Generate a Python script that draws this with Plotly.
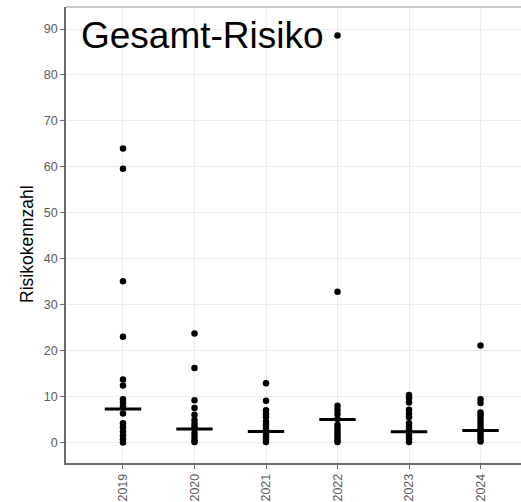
import plotly.graph_objects as go

years = ["2019", "2020", "2021", "2022", "2023", "2024"]

v2019 = [64.0, 59.6, 35.1, 23.0, 13.7, 12.4, 9.4, 8.7, 7.8, 6.3, 4.2, 3.3, 2.4, 1.5, 0.7, 0.0]
v2020 = [23.7, 16.2, 9.2, 7.5, 6.0, 4.9, 4.0, 3.3, 2.9, 2.0, 1.2, 0.5, 0.1]
v2021 = [12.9, 9.1, 7.0, 6.2, 5.5, 4.5, 3.8, 3.0, 2.4, 1.8, 1.2, 0.6, 0.1]
v2022 = [88.6, 32.8, 8.0, 7.1, 6.2, 5.1, 3.8, 3.2, 2.5, 1.8, 1.2, 0.6, 0.1]
v2023 = [10.3, 9.6, 8.7, 7.1, 6.3, 5.5, 4.2, 3.5, 2.8, 2.2, 1.5, 0.8, 0.1]
v2024 = [21.1, 9.4, 8.6, 6.5, 5.9, 5.2, 4.5, 3.8, 3.1, 2.6, 2.0, 1.4, 0.8, 0.2]

medians = [7.3, 2.9, 2.4, 5.0, 2.3, 2.6]

y_ticks = [0, 10, 20, 30, 40, 50, 60, 70, 80, 90]
title_text = "Gesamt-Risiko"
y_label = "Risikokennzahl"

series = [v2019, v2020, v2021, v2022, v2023, v2024]
xs, ys = [], []
for yr, vals in zip(years, series):
    xs += [yr] * len(vals)
    ys += vals

fig = go.Figure()
fig.add_trace(go.Scatter(
    x=xs, y=ys, mode="markers",
    marker=dict(color="black", size=6.5, line=dict(width=0)),
    showlegend=False, hoverinfo="skip",
))
fig.add_trace(go.Scatter(
    x=years, y=medians, mode="markers",
    marker=dict(symbol="line-ew", size=26, color="black",
                line=dict(color="black", width=3)),
    showlegend=False, hoverinfo="skip",
))

fig.add_annotation(
    text=title_text, xref="paper", yref="y", x=0.028, y=88.6,
    xanchor="left", yanchor="middle", showarrow=False,
    font=dict(family="Liberation Sans, Arial, sans-serif", size=37, color="black"),
)
fig.add_annotation(
    text=y_label, xref="paper", yref="paper", x=-0.086, y=0.48,
    xanchor="center", yanchor="middle", textangle=-90, showarrow=False,
    font=dict(family="Liberation Sans, Arial, sans-serif", size=17.5, color="black"),
)
fig.add_shape(type="line", xref="paper", yref="paper", x0=0, x1=1, y0=1, y1=1,
              line=dict(color="#b5b5b5", width=1.5))

fig.update_layout(
    width=521, height=502,
    margin=dict(l=66, r=0, t=7, b=39),
    paper_bgcolor="white", plot_bgcolor="white",
    font=dict(family="Liberation Sans, Arial, sans-serif"),
    xaxis=dict(
        type="category", categoryorder="array", categoryarray=years,
        range=[-0.797, 5.566], automargin=False,
        showgrid=True, gridcolor="#ebebeb", gridwidth=1,
        showline=True, linecolor="#6a6a6a", linewidth=1.5,
        ticks="outside", ticklen=4, tickcolor="#6a6a6a", tickwidth=1,
        tickangle=-90, tickfont=dict(size=12.5, color="#5a5a5a"),
        zeroline=False,
    ),
    yaxis=dict(
        range=[-4.48, 94.8], automargin=False,
        tickvals=y_ticks,
        showgrid=True, gridcolor="#ebebeb", gridwidth=1,
        showline=True, linecolor="#6a6a6a", linewidth=1.5,
        ticks="outside", ticklen=4, tickcolor="#6a6a6a", tickwidth=1,
        tickfont=dict(size=12.5, color="#5a5a5a"),
        zeroline=False,
    ),
)

fig.write_html(
    "out.html",
    config={"displayModeBar": False},
    post_script="document.body.style.margin='0';document.body.style.overflow='hidden';",
)
